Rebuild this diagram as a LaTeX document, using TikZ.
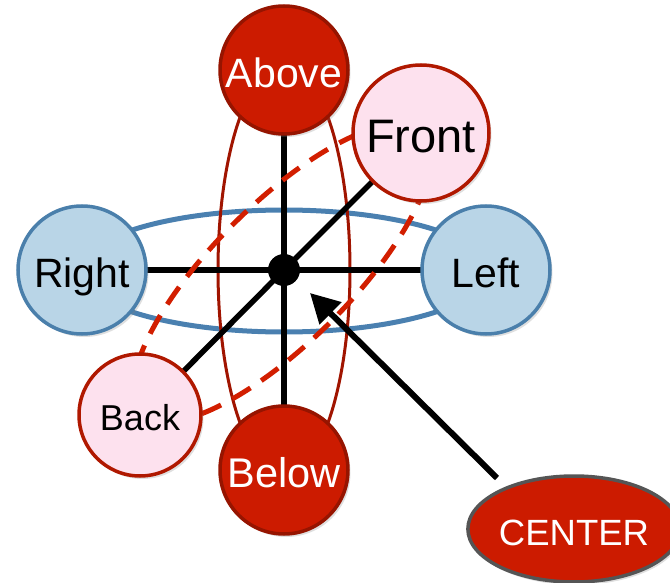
\documentclass[tikz,border=0pt]{standalone}
\usepackage{fontspec}
\setmainfont{Liberation Sans}
\usetikzlibrary{shapes.geometric,arrows.meta,shadows}
\definecolor{redfill}{RGB}{204,27,0}
\definecolor{redborder}{RGB}{150,20,0}
\definecolor{pinkfill}{RGB}{253,225,238}
\definecolor{pinkborder}{RGB}{176,24,0}
\definecolor{bluefill}{RGB}{185,213,231}
\definecolor{blueborder}{RGB}{74,127,171}
\definecolor{blueline}{RGB}{74,128,176}
\definecolor{dashred}{RGB}{210,30,0}
\definecolor{ellred}{RGB}{160,20,0}
\definecolor{centerborder}{RGB}{85,85,85}
\tikzset{
  ball/.style={circle, draw, line width=3.5pt, inner sep=0pt, text depth=0pt,
    drop shadow={shadow xshift=2.5pt, shadow yshift=-3pt, opacity=0.25}},
  redball/.style={ball, fill=redfill, draw=redborder, text=white, minimum size=128pt},
  pinkball/.style={ball, fill=pinkfill, draw=pinkborder, text=black},
  blueball/.style={ball, fill=bluefill, draw=blueborder, text=black, minimum size=128pt},
  fs/.style={font=\fontsize{#1pt}{#1pt}\selectfont},
  spoke/.style={line width=5.5pt, black},
  ring/.style={line width=5pt},
  pointer/.style={line width=6pt, black, -{Triangle[length=29pt,width=30pt]}}
}
\begin{document}
\begin{tikzpicture}[x=1pt,y=-1pt]
\useasboundingbox (0,0) rectangle (670,583);
% coordinates
\coordinate (C) at (284,270);
% rings
\draw[blueline, ring] (284,271) ellipse [x radius=205pt, y radius=61pt];
\draw[ellred, line width=3pt] (284,270) ellipse [x radius=66pt, y radius=205pt];
% spokes
\draw[spoke] (284,70) -- (284,470);
\draw[spoke] (82,270) -- (486,270);
\draw[spoke] (421,133) -- (C) -- (140,415);
% dashed ring
\draw[dashred, line width=5pt, dash pattern=on 21pt off 13pt, rotate around={45:(282,273)}]
  (282,273) ellipse [x radius=199pt, y radius=69pt];
% balls
\node[redball, fs=41, text height=35.4pt] (above) at (284,70) {Above};
\node[redball, fs=41.5, text height=35.7pt] (below) at (284,470) {Below};
\node[blueball, fs=41, text height=35.4pt] (right) at (82,270) {Right};
\node[blueball, fs=41, text height=35.4pt] (left) at (486,270) {Left};
\node[pinkball, fs=47, text height=39.7pt, minimum size=136pt] (front) at (421,133) {Front};
\node[pinkball, fs=36, text height=31.8pt, minimum size=122pt] (back) at (140,415) {Back};
% center dot
\node[circle, fill=black, minimum size=32pt, inner sep=0pt] (dot) at (C) {};
% CENTER label
\node[ellipse, fill=redfill, draw=centerborder, line width=3.5pt, minimum width=208pt,
  minimum height=106pt, inner sep=0pt, text=white, fs=36.5, text height=32pt, text depth=0pt,
  drop shadow={shadow xshift=2pt, shadow yshift=-3pt, opacity=0.25}] (center) at (574,529) {CENTER};
\coordinate (tail) at (497,478);
\coordinate (tip) at (310,293);
\draw[pointer] (tail) -- (tip);
\end{tikzpicture}
\end{document}
